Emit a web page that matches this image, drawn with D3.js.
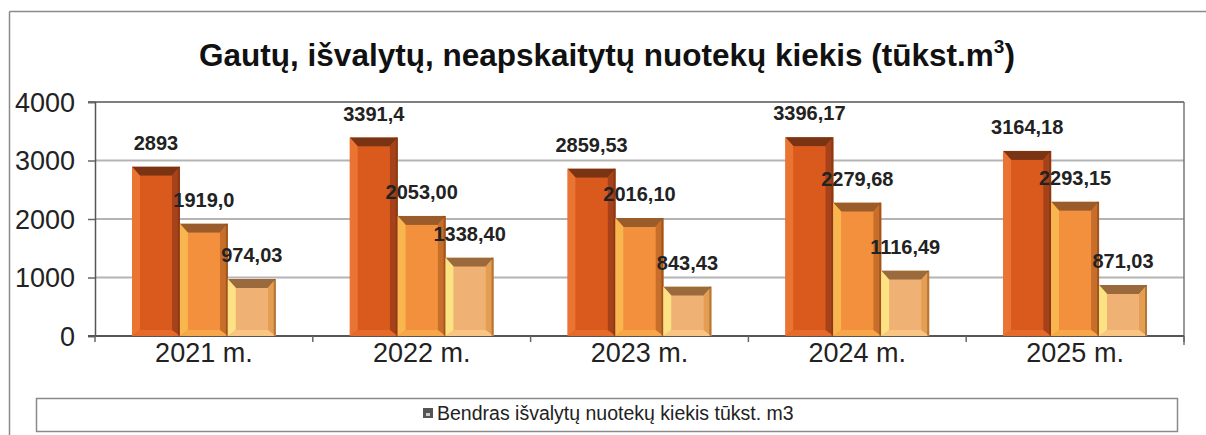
<!DOCTYPE html>
<html><head><meta charset="utf-8">
<script src="https://cdn.jsdelivr.net/npm/d3@7"></script>
<style>body{margin:0;background:#fff}svg{display:block}</style>
</head><body>
<svg id="c" width="1206" height="435"></svg>
<script>
const categories = ["2021 m.","2022 m.","2023 m.","2024 m.","2025 m."];
const seriesA = [2893, 3391.4, 2859.53, 3396.17, 3164.18];
const seriesB = [1919.0, 2053.00, 2016.10, 2279.68, 2293.15];
const seriesC = [974.03, 1338.40, 843.43, 1116.49, 871.03];
const labelsA = ["2893","3391,4","2859,53","3396,17","3164,18"];
const labelsB = ["1919,0","2053,00","2016,10","2279,68","2293,15"];
const labelsC = ["974,03","1338,40","843,43","1116,49","871,03"];
const yTicks = [0,1000,2000,3000,4000];
const titleText = "Gautų, išvalytų, neapskaitytų nuotekų kiekis (tūkst.m";
const legendText = "Bendras išvalytų nuotekų kiekis tūkst. m3";

const palettes = [
  {face:"#DA5A1E", top:"#7A3414", left:"#EA7432", right:"#A6421A", bottom:"#E66A2A"},
  {face:"#F2903E", top:"#9A5C2A", left:"#F9B64E", right:"#C66E2A", bottom:"#F7A64A"},
  {face:"#F0B274", top:"#9A6A3C", left:"#FCE282", right:"#E49E52", bottom:"#F8C682"}
];

const svg = d3.select("#c");
const F = "Liberation Sans, Arial, sans-serif";

// outer frame
svg.append("line").attr("x1",9.5).attr("x2",1206).attr("y1",11.5).attr("y2",11.5).attr("stroke","#8a8a8a").attr("stroke-width",1.5);
svg.append("line").attr("x1",9.5).attr("x2",9.5).attr("y1",11.5).attr("y2",435).attr("stroke","#8a8a8a").attr("stroke-width",1.5);

// title
const title = svg.append("text").attr("x",607).attr("y",66).attr("text-anchor","middle")
  .attr("font-family",F).attr("font-weight","bold").attr("font-size",31.5).attr("fill","#111");
title.append("tspan").text(titleText);
title.append("tspan").attr("font-size",19).attr("dy",-13).text("3");
title.append("tspan").attr("dy",13).text(")");

const pLeft = 95, pRight = 1184, pTop = 102, pBottom = 336;
const x0 = d3.scaleBand().domain(categories).range([pLeft,pRight]).paddingInner(0.34).paddingOuter(0.17);
const x1 = d3.scaleBand().domain([0,1,2]).range([0,x0.bandwidth()]);
const y = d3.scaleLinear().domain([0,4000]).range([pBottom,pTop]);

// gridlines
svg.append("g").selectAll("line").data(yTicks.filter(t=>t>0 && t<4000)).join("line")
  .attr("x1",pLeft).attr("x2",pRight).attr("y1",d=>y(d)).attr("y2",d=>y(d))
  .attr("stroke","#b4b4b4").attr("stroke-width",2);
svg.append("line").attr("x1",88).attr("x2",pRight).attr("y1",y(4000)).attr("y2",y(4000)).attr("stroke","#555").attr("stroke-width",1.5);
svg.append("line").attr("x1",pRight).attr("x2",pRight).attr("y1",pTop).attr("y2",pBottom+9).attr("stroke","#777").attr("stroke-width",1.5);

// y axis
const yAxis = svg.append("g").attr("transform",`translate(${pLeft},0)`)
  .call(d3.axisLeft(y).tickValues(yTicks).tickSize(7).tickPadding(13).tickFormat(d3.format("d")));
yAxis.select(".domain").attr("stroke","#555").attr("stroke-width",1.5);
yAxis.selectAll(".tick line").attr("stroke","#666").attr("stroke-width",1.5);
yAxis.selectAll("text").attr("font-family",F).attr("font-size",27).attr("fill","#222").attr("dy","0.35em");

// x axis
const xAxis = svg.append("g").attr("transform",`translate(0,${pBottom})`)
  .call(d3.axisBottom(x0).tickSize(0).tickPadding(7));
xAxis.select(".domain").remove();
xAxis.selectAll("text").attr("font-family",F).attr("font-size",27).attr("fill","#222");
svg.append("line").attr("x1",88).attr("x2",pRight).attr("y1",pBottom).attr("y2",pBottom).attr("stroke","#555").attr("stroke-width",2);
const bounds = d3.range(categories.length+1).map(i=>pLeft + i*x0.step());
svg.append("g").selectAll("line").data(bounds).join("line")
  .attr("x1",d=>d).attr("x2",d=>d).attr("y1",pBottom).attr("y2",pBottom+6).attr("stroke","#666").attr("stroke-width",1.5);

// bars
const series = [seriesA, seriesB, seriesC];
const labels = [labelsA, labelsB, labelsC];
const data = [];
categories.forEach((c,i)=>series.forEach((s,k)=>data.push({c, k, v:s[i], label:labels[k][i]})));

const bw = x1.bandwidth();
const g = svg.append("g");
data.forEach(d=>{
  const x = x0(d.c) + x1(d.k), yt = y(d.v), yb = y(0), w = bw, p = palettes[d.k];
  const bt = 9, bs = 8, bb = 6;
  const xi = x+bs, xr = x+w-bs, yi = yt+bt, ybi = yb-bb;
  const bg = g.append("g");
  bg.append("rect").attr("x",x).attr("y",yt).attr("width",w).attr("height",yb-yt).attr("fill",p.face);
  bg.append("polygon").attr("points",[[x,yt],[x+w,yt],[xr,yi],[xi,yi]].join(" ")).attr("fill",p.top);
  bg.append("polygon").attr("points",[[x,yt],[xi,yi],[xi,ybi],[x,yb]].join(" ")).attr("fill",p.left);
  bg.append("polygon").attr("points",[[x+w,yt],[x+w,yb],[xr,ybi],[xr,yi]].join(" ")).attr("fill",p.right);
  bg.append("polygon").attr("points",[[x,yb],[xi,ybi],[xr,ybi],[x+w,yb]].join(" ")).attr("fill",p.bottom);
  bg.append("rect").attr("x",xi).attr("y",yi).attr("width",xr-xi).attr("height",Math.max(0,ybi-yi)).attr("fill",p.face);
  bg.append("line").attr("x1",x+w-1).attr("x2",x+w-1).attr("y1",yt).attr("y2",yb).attr("stroke","rgba(90,40,10,0.35)").attr("stroke-width",2);
});
g.selectAll("text.v").data(data).join("text").attr("class","v")
  .attr("x",d=>x0(d.c)+x1(d.k)+bw/2).attr("y",d=>y(d.v)-17)
  .attr("text-anchor","middle").attr("font-family",F).attr("font-weight","bold").attr("font-size",20)
  .attr("fill","#222").text(d=>d.label);

// legend
svg.append("rect").attr("x",36.5).attr("y",398.5).attr("width",1141).attr("height",33)
  .attr("fill","#fff").attr("stroke","#8a8a8a").attr("stroke-width",1.5);
const lg = svg.append("g");
lg.append("rect").attr("x",423).attr("y",408).attr("width",10).attr("height",10).attr("fill","#555");
lg.append("rect").attr("x",426).attr("y",413).attr("width",4).attr("height",3).attr("fill","#ccc");
lg.append("text").attr("x",437).attr("y",420).attr("font-family",F).attr("font-size",19.5).attr("fill","#222").text(legendText);
</script>
</body></html>
